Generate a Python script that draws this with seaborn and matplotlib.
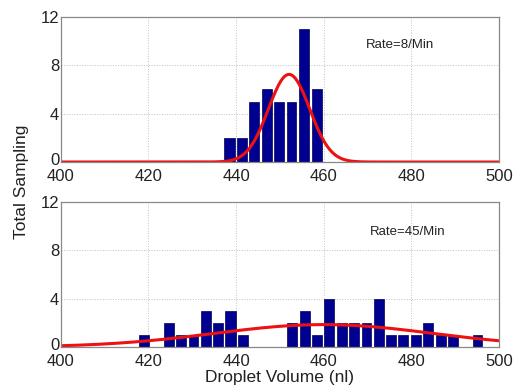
import numpy as np
import pandas as pd
import seaborn as sns
import matplotlib.pyplot as plt
import matplotlib.transforms as mtransforms

# bin centres (nl) and counts
slow_centers = [438.5, 441.4, 444.2, 447.0, 449.9, 452.7, 455.5, 458.4]
slow_counts = [2, 2, 5, 6, 5, 5, 11, 6]

fast_centers = [419.0, 421.8, 424.6, 427.5, 430.3, 433.1, 435.9, 438.7, 441.6,
                444.4, 447.2, 450.0, 452.8, 455.7, 458.5, 461.3, 464.1, 466.9,
                469.8, 472.6, 475.4, 478.2, 481.0, 483.9, 486.7, 489.5, 492.3, 495.1]
fast_counts = [1, 0, 2, 1, 1, 3, 2, 3, 1,
               0, 0, 0, 2, 3, 1, 4, 2, 2,
               2, 4, 1, 1, 1, 2, 1, 1, 0, 1]

# fitted normal curves: mean, sd, peak height
slow_fit = (452.1, 4.7, 7.25)
fast_fit = (460.0, 25.0, 1.85)

labels = ['Rate=8/Min', 'Rate=45/Min']

sns.set_theme(style='white')
plt.rcParams['font.family'] = ['Liberation Sans', 'DejaVu Sans']

fig = plt.figure(figsize=(5.13, 3.92), dpi=100)
ax1 = fig.add_axes([0.1183, 0.5867, 0.8544, 0.370])
ax2 = fig.add_axes([0.1183, 0.1148, 0.8544, 0.3707])

xs = np.linspace(400, 500, 400)

panels = [(ax1, slow_centers, slow_counts, slow_fit, labels[0], (400, 45)),
          (ax2, fast_centers, fast_counts, fast_fit, labels[1], (408, 232))]

for ax, centers, counts, fit, lab, pos in panels:
    c = np.array(centers)
    w = np.mean(np.diff(c))
    edges = [float(e) for e in np.append(c - w / 2, c[-1] + w / 2)]
    df = pd.DataFrame({'vol': centers, 'n': counts})
    sns.histplot(data=df, x='vol', weights='n', bins=edges, shrink=0.8,
                 color='#000090', edgecolor='#000050', linewidth=0.5,
                 alpha=1, ax=ax)
    mu, sd, peak = fit
    sns.lineplot(x=xs, y=peak * np.exp(-(xs - mu) ** 2 / (2 * sd ** 2)),
                 color='#ee1111', lw=2.2, ax=ax)
    ax.set_xlim(400, 500)
    ax.set_ylim(0, 12)
    ax.set_xticks(range(400, 501, 20))
    ax.set_yticks([0, 4, 8, 12])
    ax.grid(True, linestyle=':', color='#c0c0c0', lw=0.7)
    ax.set_axisbelow(True)
    for s in ax.spines.values():
        s.set_color('#888888')
        s.set_linewidth(0.9)
    ax.tick_params(direction='in', length=3, colors='#888888',
                   labelcolor='#222222', labelsize=12, pad=1)
    ax.tick_params(axis='x', pad=5)
    # lift the "0" a little, like the original where it sits on the "400"
    lbl = ax.get_yticklabels()[0]
    lbl.set_transform(lbl.get_transform() +
                      mtransforms.ScaledTranslation(0, 2 / 72, fig.dpi_scale_trans))
    ax.set_xlabel('')
    ax.set_ylabel('')
    fig.text(pos[0] / 513, 1 - pos[1] / 392, lab,
             fontsize=9.5, ha='center', va='center', color='#222222')

ax2.set_xlabel('Droplet Volume (nl)', fontsize=12.5, color='#222222', labelpad=1)
fig.text(0.042, 0.535, 'Total Sampling', rotation=90, fontsize=12.5,
         ha='center', va='center', color='#222222')

fig.savefig('out.png', dpi=100)
